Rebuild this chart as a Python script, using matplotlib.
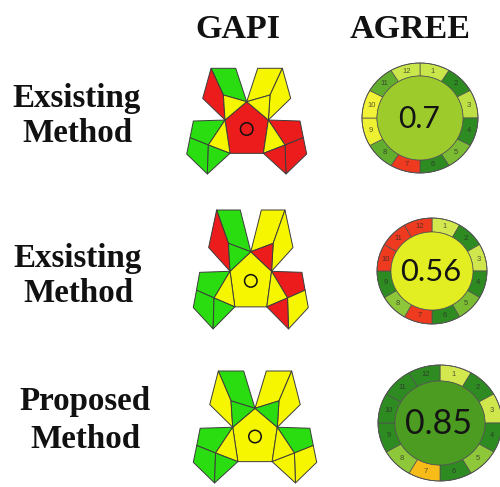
import numpy as np
import matplotlib
matplotlib.use("Agg")
import matplotlib.pyplot as plt
from matplotlib.patches import Polygon, Ellipse

# ---------------- data ----------------
row_line1 = ["Exsisting", "Exsisting", "Proposed"]
row_line2 = ["Method", "Method", "Method"]
headers = ["GAPI", "AGREE"]

# GAPI field ratings (G = green, Y = yellow, R = red), field order:
# centre, TL upper/left/inner, TR upper/right/inner,
# BL top/inner/lower-left/lower-right, BR top/inner/lower-right/lower-left
gapi_fields = [
    ["R", "G", "R", "Y", "Y", "Y", "Y", "G", "Y", "G", "G", "R", "Y", "R", "R"],
    ["Y", "G", "R", "G", "Y", "Y", "R", "G", "Y", "G", "G", "R", "Y", "Y", "R"],
    ["Y", "G", "Y", "G", "Y", "Y", "G", "G", "Y", "G", "G", "G", "Y", "Y", "Y"],
]

# AGREE overall scores and segment colours for principles 1..12
agree_scores = ["0.7", "0.56", "0.85"]
agree_centre = ["#9dcb2c", "#e3ee22", "#4c9c22"]
agree_segments = [
    ["#c9e64a", "#2e8b22", "#bfe045", "#2e8b22", "#7cbc32", "#2e8b22",
     "#ee3a1f", "#62ad2e", "#eef032", "#f2f236", "#62ad2e", "#c9e64a"],
    ["#d3e74e", "#2e8b22", "#cfe64c", "#2e8b22", "#7cbc32", "#2e8b22",
     "#ee3a1f", "#8fc73a", "#2e8b22", "#ee3a1f", "#ee3a1f", "#ee3a1f"],
    ["#d3e74e", "#2e8b22", "#cfe64c", "#2e8b22", "#8fc73a", "#2e8b22",
     "#f8bc18", "#8fc73a", "#2e8b22", "#2e8b22", "#2e8b22", "#2e8b22"],
]

# ---------------- layout ----------------
W, H = 500, 487
label_x = [77, 78, 85]
label_base = [(107, 142), (267, 302), (410, 448)]
# pictogram frame: left x, width, top y, y of the shared top vertex, bottom y
gapi_box = [(186.7, 120, 68.3, 101.7, 175),
            (193.3, 115, 210, 251.7, 330),
            (193.3, 123.4, 371, 408.3, 484)]
agree_geom = [  # cx, cy, outer rx, outer ry, inner rx, inner ry, font px
    (420, 118, 58, 55, 43, 42, 30),
    (432, 271, 55, 53, 41, 39, 31),
    (440, 423, 62, 58, 45, 42, 34),
]
gapi_colors = {"G": "#2add10", "Y": "#f6f600", "R": "#ec1c1c"}

fig = plt.figure(figsize=(W / 100, H / 100), dpi=100)
ax = fig.add_axes([0, 0, 1, 1])
ax.set_xlim(0, W)
ax.set_ylim(H, 0)
ax.axis("off")

px = 72 / 100  # points per pixel

serif = dict(family="Liberation Serif", weight="bold", color="#111111")
ax.text(238, 38, headers[0], ha="center", va="baseline", fontsize=34 * px, **serif)
ax.text(410, 38, headers[1], ha="center", va="baseline", fontsize=34 * px, **serif)
for i in range(3):
    ax.text(label_x[i], label_base[i][0], row_line1[i], ha="center", va="baseline",
            fontsize=33 * px, **serif)
    ax.text(label_x[i], label_base[i][1], row_line2[i], ha="center", va="baseline",
            fontsize=33 * px, **serif)

# ---------------- GAPI pictogram template ----------------
def mirror(p):
    return (400 - p[0], p[1])

T, UL, LL = (200, 125), (135, 180), (150, 280)
UR, LR = mirror(UL), mirror(LL)
A1, A2, A5, P = (93, 25), (167, 25), (68, 115), (130, 105)
B1, B4, B5, Q, M = (40, 183), (82, 342), (20, 282), (85, 255), (30, 233)

tl = [[A1, A2, T, P], [A1, P, UL, A5], [P, T, UL]]
bl = [[B1, UL, Q, M], [UL, LL, Q], [M, Q, B4, B5], [Q, LL, B4]]
regions = [[T, UR, LR, LL, UL]]
regions += tl
regions += [[mirror(p) for p in r] for r in tl]
regions += bl
regions += [[mirror(p) for p in r] for r in bl]
circle_c = (200, 207)


def to_px(p, box):
    x0, w, ytop, yT, ybot = box
    x = x0 + (p[0] - 20) / 360 * w
    y = np.interp(p[1], [25, T[1], 345], [ytop, yT, ybot])
    return (x, y)


for fields, box in zip(gapi_fields, gapi_box):
    for reg, f in zip(regions, fields):
        pts = [to_px(p, box) for p in reg]
        ax.add_patch(Polygon(pts, closed=True, facecolor=gapi_colors[f],
                             edgecolor="#3c3c3c", linewidth=0.7, joinstyle="round"))
    c = to_px(circle_c, box)
    ax.add_patch(Ellipse(c, 12.5, 12.5, facecolor="none", edgecolor="#111111", linewidth=1.1))

# ---------------- AGREE pictograms ----------------
for score, cen, segs, g in zip(agree_scores, agree_centre, agree_segments, agree_geom):
    cx, cy, rxo, ryo, rxi, ryi, fpx = g
    for k, col in enumerate(segs):
        a0 = np.deg2rad(90 - 30 * k)
        a1 = np.deg2rad(90 - 30 * (k + 1))
        t = np.linspace(a0, a1, 20)
        outer = np.column_stack([cx + rxo * np.cos(t), cy - ryo * np.sin(t)])
        inner = np.column_stack([cx + rxi * np.cos(t[::-1]), cy - ryi * np.sin(t[::-1])])
        ax.add_patch(Polygon(np.vstack([outer, inner]), closed=True, facecolor=col,
                             edgecolor="#505050", linewidth=0.5))
        tm = (a0 + a1) / 2
        ax.text(cx + (rxo + rxi) / 2 * np.cos(tm), cy - (ryo + ryi) / 2 * np.sin(tm),
                str(k + 1), ha="center", va="center", fontsize=5.5,
                family="Liberation Sans", color="#2a2a2a", alpha=0.75)
    ax.add_patch(Ellipse((cx, cy), 2 * rxi, 2 * ryi, facecolor=cen,
                         edgecolor="#505050", linewidth=0.5))
    ax.add_patch(Ellipse((cx, cy), 2 * rxo, 2 * ryo, facecolor="none",
                         edgecolor="#505050", linewidth=0.6))
    ax.text(cx - 1, cy + 1, score, ha="center", va="center", fontsize=fpx * px,
            family="Lato", color="#141414")

fig.savefig("out.png", dpi=100)
